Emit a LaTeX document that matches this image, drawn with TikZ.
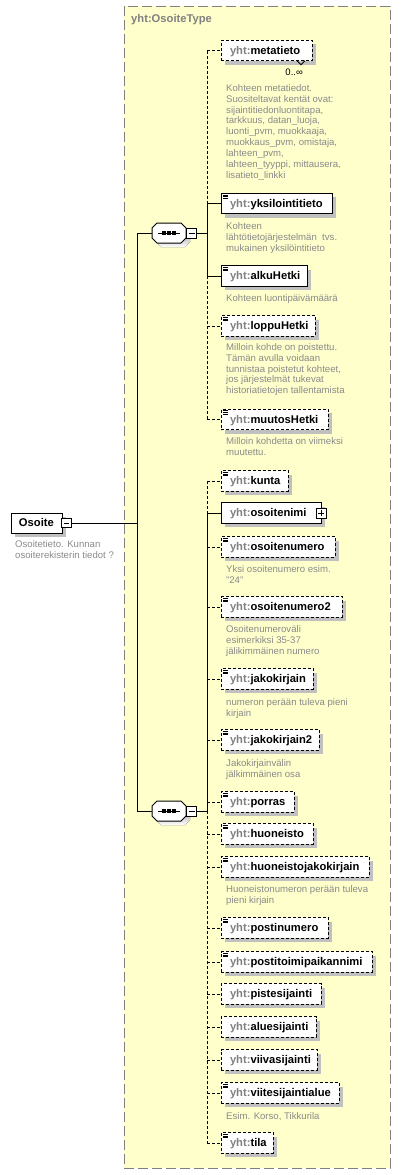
\documentclass[tikz,border=0pt]{standalone}
\usepackage{fontspec}
\setmainfont{Liberation Sans}
\usetikzlibrary{shadows}
\definecolor{bgyellow}{HTML}{FFFFCC}
\definecolor{framegray}{HTML}{808080}
\definecolor{yhtgray}{HTML}{808080}
\definecolor{descgray}{HTML}{8A8A8A}
\definecolor{shade}{HTML}{C0C0C0}
\newcommand{\nm}[1]{\mbox{\textcolor{yhtgray}{yht:}#1}}
\newcommand{\docicon}[1]{%
  \foreach \dy in {1.6,3.3,5.0}{\draw[line width=0.8pt] ([xshift=2pt,yshift=-\dy pt]#1.north west) -- ++(5,0);}}
\newcommand{\octa}{(-17,-5) -- (-12,-10) -- (12,-10) -- (17,-5) -- (17,5) -- (12,10) -- (-12,10) -- (-17,5) -- cycle}
\newcommand{\seqglyph}[1]{%
  \begin{scope}[shift={(#1.center)}]
    \begin{scope}[shift={(4,4)}]\fill[shade] \octa;\end{scope}
    \draw[line width=1pt, fill=white] \octa;
    \draw[line width=1pt] (-11,0) -- (11,0);
    \foreach \dx in {-5,0,5}{\fill (\dx-1.6,-1.6) rectangle (\dx+1.6,1.6);}
  \end{scope}}
\tikzset{
  boxshadow/.style={drop shadow={shadow xshift=4pt,shadow yshift=-4pt,fill=shade,opacity=1}},
  elbox/.style={draw, fill=white, line width=1pt, anchor=west, outer sep=0pt,
    minimum height=20.5pt, inner ysep=0pt, inner xsep=9pt, text width=#1pt, align=left,
    text height=9.7pt, text depth=2.5pt, font=\bfseries\fontsize{11.2}{13}\selectfont, boxshadow},
  opt/.style={dash pattern=on 3pt off 2pt},
  desc/.style={anchor=north west, inner sep=0pt, align=left, text=descgray,
    font=\fontsize{9.6}{10.9}\selectfont},
  conn/.style={line width=1pt},
  seqbox/.style={rectangle, minimum width=34pt, minimum height=20pt, inner sep=0pt, outer sep=0pt},
  togbox/.style={draw, fill=white, line width=1pt, minimum size=10pt, inner sep=0pt, outer sep=0pt},
}
\begin{document}
\begin{tikzpicture}[x=1pt,y=-1pt]
\useasboundingbox (0,0) rectangle (401,1175);
% type container
\path[fill=bgyellow, draw=framegray, line width=1pt, dash pattern=on 10pt off 4pt] (124,6) rectangle (390,1168);
\node[anchor=base west, inner sep=0pt, text=yhtgray, font=\bfseries\fontsize{11.2}{13}\selectfont] (title) at (131,22.5) {yht:OsoiteType};

% root element
\node[draw, fill=white, line width=1pt, anchor=west, outer sep=0pt, minimum width=51pt, minimum height=20pt,
  inner ysep=0pt, inner xsep=8pt, text width=35pt, align=left, text height=9.7pt, text depth=2.5pt,
  font=\bfseries\fontsize{11.2}{13}\selectfont, boxshadow] (osoite) at (11,523) {Osoite};
\node[togbox, minimum size=9.5pt] (otog) at (66.5,523) {};
\draw[line width=1pt] ([xshift=2pt]otog.west) -- ([xshift=-2pt]otog.east);
\node[desc] (osoitedesc) at (15,539.4) {\strut Osoitetieto. Kunnan\\osoiterekisterin tiedot ?};

% junctions
\coordinate (jA) at (137,233);
\coordinate (jB) at (137,811);
\draw[conn] (otog.east) -- (otog.east -| jA);
\draw[conn] (jA) -- (jB);

% sequence A
\node[seqbox] (seqA) at (169,233) {};
\seqglyph{seqA}
\node[togbox] (togA) at (191.5,233) {};
\draw[line width=1pt] ([xshift=2pt]togA.west) -- ([xshift=-2pt]togA.east);
\draw[conn] (jA) -- (seqA.west);
\coordinate (busA) at (207,233);
\draw[conn] (togA.east) -- (busA);

% sequence B
\node[seqbox] (seqB) at (169,811) {};
\seqglyph{seqB}
\node[togbox] (togB) at (191.5,811) {};
\draw[line width=1pt] ([xshift=2pt]togB.west) -- ([xshift=-2pt]togB.east);
\draw[conn] (jB) -- (seqB.west);
\coordinate (busB) at (207,811);
\draw[conn] (togB.east) -- (busB);

% ---- children of sequence A
\node[elbox=73, opt] (meta) at (221,50.5) {\nm{metatieto}};
\draw[line width=0.8pt] ([xshift=-15pt]meta.south east) -- ++(4,4) -- ++(4,-4);
\node[anchor=base east, inner sep=0pt, font=\fontsize{9.5}{11}\selectfont] (metaocc) at (303,75) {0..∞};
\node[desc] (metadesc) at (226,83.4) {\strut Kohteen metatiedot.\\Suositeltavat kentät ovat:\\sijaintitiedonluontitapa,\\tarkkuus, datan\_luoja,\\luonti\_pvm, muokkaaja,\\muokkaus\_pvm, omistaja,\\lahteen\_pvm,\\lahteen\_tyyppi, mittausera,\\lisatieto\_linkki};

\node[elbox=93] (yks) at (221,203.7) {\nm{yksilointitieto}};
\docicon{yks}
\node[desc] (yksdesc) at (226,221.4) {\strut Kohteen\\lähtötietojärjestelmän\ \ tvs.\\mukainen yksilöintitieto};

\node[elbox=68] (alku) at (221,276) {\nm{alkuHetki}};
\docicon{alku}
\node[desc] (alkudesc) at (226,293.4) {\strut Kohteen luontipäivämäärä};

\node[elbox=76, opt] (loppu) at (221,326) {\nm{loppuHetki}};
\docicon{loppu}
\node[desc] (loppudesc) at (226,342.4) {\strut Milloin kohde on poistettu.\\Tämän avulla voidaan\\tunnistaa poistetut kohteet,\\jos järjestelmät tukevat\\historiatietojen tallentamista};

\node[elbox=89, opt] (muutos) at (221,419.5) {\nm{muutosHetki}};
\docicon{muutos}
\node[desc] (muutosdesc) at (226,436.4) {\strut Milloin kohdetta on viimeksi\\muutettu.};

\draw[conn,opt] (meta.west -| busA) -- (meta.west);
\draw[conn] (yks.west -| busA) -- (yks.west);
\draw[conn] (alku.west -| busA) -- (alku.west);
\draw[conn,opt] (loppu.west -| busA) -- (loppu.west);
\draw[conn,opt] (muutos.west -| busA) -- (muutos.west);
\draw[conn,opt] (meta.west -| busA) -- (yks.west -| busA);
\draw[conn] (yks.west -| busA) -- (alku.west -| busA);
\draw[conn,opt] (alku.west -| busA) -- (muutos.west -| busA);

% ---- children of sequence B
\node[elbox=49, opt] (kunta) at (221,481) {\nm{kunta}};
\docicon{kunta}

\node[elbox=82] (onimi) at (221,513) {\nm{osoitenimi}};
\node[togbox] (onimitog) at (onimi.east) {};
\draw[line width=1pt] ([xshift=2pt]onimitog.west) -- ([xshift=-2pt]onimitog.east);
\draw[line width=1pt] ([yshift=2pt]onimitog.south) -- ([yshift=-2pt]onimitog.north);

\node[elbox=96, opt] (onum) at (221,547) {\nm{osoitenumero}};
\docicon{onum}
\node[desc] (onumdesc) at (226,564.4) {\strut Yksi osoitenumero esim.\\"24"};

\node[elbox=103, opt] (onum2) at (221,607) {\nm{osoitenumero2}};
\docicon{onum2}
\node[desc] (onum2desc) at (226,624.4) {\strut Osoitenumeroväli\\esimerkiksi 35-37\\jälikimmäinen numero};

\node[elbox=74, opt] (jako) at (221,679) {\nm{jakokirjain}};
\docicon{jako}
\node[desc] (jakodesc) at (226,697.4) {\strut numeron perään tuleva pieni\\kirjain};

\node[elbox=80, opt] (jako2) at (221,740) {\nm{jakokirjain2}};
\docicon{jako2}
\node[desc] (jako2desc) at (226,758.4) {\strut Jakokirjainvälin\\jälkimmäinen osa};

\node[elbox=55, opt] (porras) at (221,802) {\nm{porras}};
\docicon{porras}

\node[elbox=74, opt] (huon) at (221,834) {\nm{huoneisto}};
\docicon{huon}

\node[elbox=130, opt] (huonjako) at (221,867) {\nm{huoneistojakokirjain}};
\docicon{huonjako}
\node[desc] (huonjakodesc) at (226,884.4) {\strut Huoneistonumeron perään tuleva\\pieni kirjain};

\node[elbox=89, opt] (postinro) at (221,928) {\nm{postinumero}};
\docicon{postinro}

\node[elbox=133, opt] (ptp) at (221,962) {\nm{postitoimipaikannimi}};
\docicon{ptp}

\node[elbox=82, opt] (piste) at (221,994) {\nm{pistesijainti}};
\node[elbox=77, opt] (alue) at (221,1027) {\nm{aluesijainti}};
\node[elbox=78, opt] (viiva) at (221,1060) {\nm{viivasijainti}};

\node[elbox=100, opt] (viite) at (221,1093) {\nm{viitesijaintialue}};
\docicon{viite}
\node[desc] (viitedesc) at (226,1111.4) {\strut Esim. Korso, Tikkurila};

\node[elbox=34, opt] (tila) at (221,1143) {\nm{tila}};
\docicon{tila}

\draw[conn,opt] (kunta.west -| busB) -- (kunta.west);
\draw[conn] (onimi.west -| busB) -- (onimi.west);
\foreach \n in {onum,onum2,jako,jako2,porras,huon,huonjako,postinro,ptp,piste,alue,viiva,viite,tila}{
  \draw[conn,opt] (\n.west -| busB) -- (\n.west);
}
\draw[conn,opt] (kunta.west -| busB) -- (onimi.west -| busB);
\draw[conn] (onimi.west -| busB) -- (busB);
\draw[conn,opt] (busB) -- (tila.west -| busB);
\end{tikzpicture}
\end{document}
